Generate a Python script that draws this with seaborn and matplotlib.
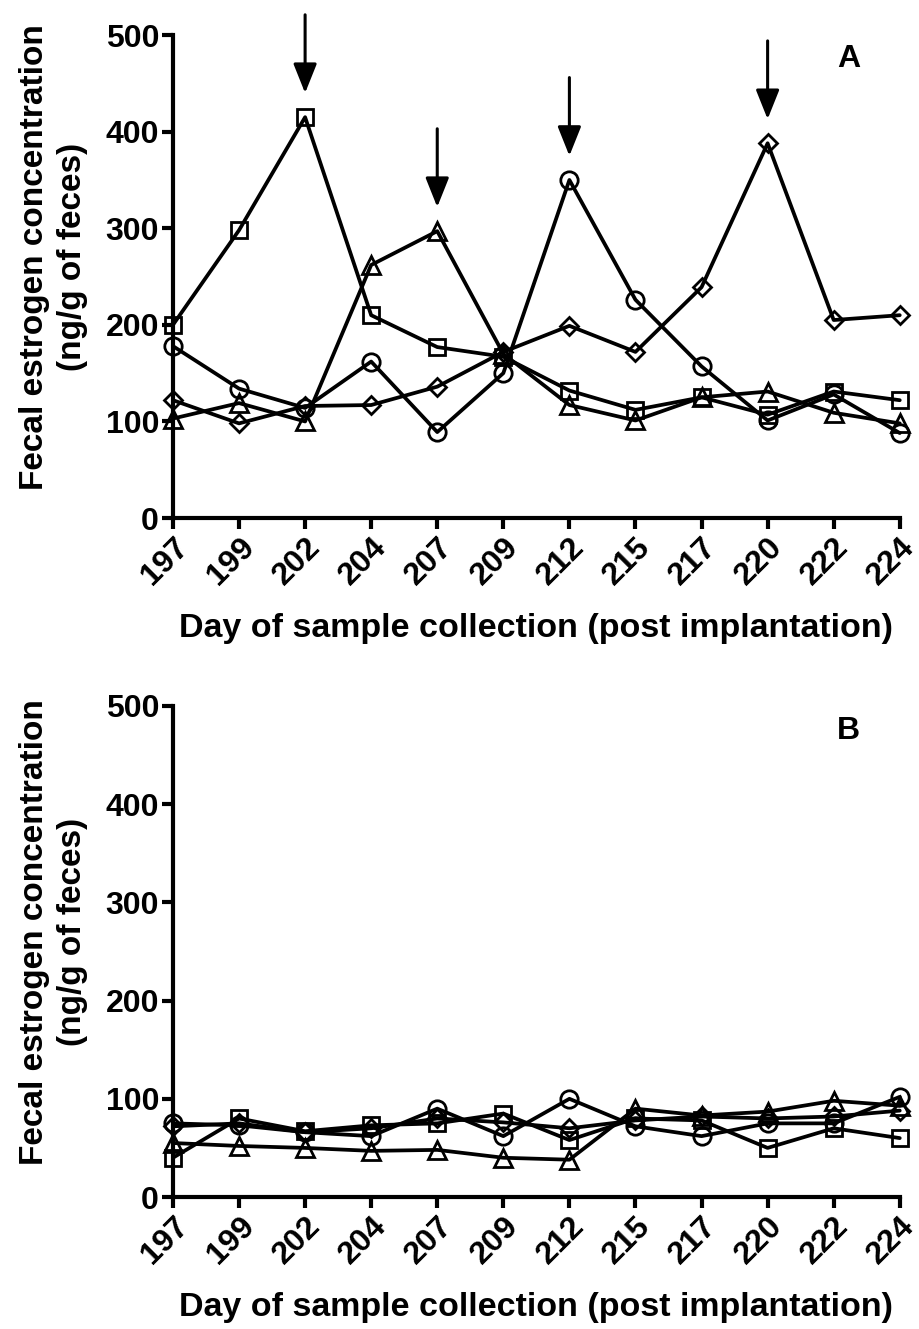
import numpy as np
import pandas as pd
import matplotlib
matplotlib.use("Agg")
import matplotlib.pyplot as plt
import seaborn as sns

days = ["197", "199", "202", "204", "207", "209", "212", "215", "217", "220", "222", "224"]

# Panel A
a_square   = [200, 298, 415, 210, 177, 167, 132, 112, 125, 107, 131, 122]
a_triangle = [103, 119, 100, 262, 297, 170, 117, 101, 125, 131, 109, 98]
a_circle   = [178, 134, 114, 162, 89, 150, 350, 226, 157, 101, 128, 88]
a_diamond  = [122, 98, 116, 117, 136, 172, 199, 172, 239, 388, 205, 210]

# Panel B
b_square   = [40, 80, 67, 73, 75, 85, 58, 80, 78, 50, 70, 60]
b_triangle = [55, 52, 50, 47, 48, 40, 38, 90, 83, 87, 98, 93]
b_circle   = [75, 73, 66, 62, 90, 62, 100, 72, 62, 75, 75, 102]
b_diamond  = [72, 75, 66, 70, 80, 76, 70, 78, 82, 80, 82, 88]

# Peaks marked by arrows in panel A: (day, series peak value)
arrow_days = ["202", "207", "212", "220"]
arrow_peaks = [415, 297, 350, 388]

sns.set_style("ticks")
plt.rcParams["font.family"] = ["Liberation Sans", "DejaVu Sans"]
plt.rcParams["font.weight"] = "bold"
plt.rcParams["axes.labelweight"] = "bold"
plt.rcParams["text.color"] = "black"
plt.rcParams["axes.labelcolor"] = "black"
plt.rcParams["xtick.color"] = "black"
plt.rcParams["ytick.color"] = "black"
plt.rcParams["axes.edgecolor"] = "black"

fig = plt.figure(figsize=(9.2, 13.29), dpi=100)
axA = fig.add_axes([0.188, 0.6102, 0.790, 0.3634])
axB = fig.add_axes([0.188, 0.0993, 0.790, 0.3695])

markers = {"square": "s", "triangle": "^", "circle": "o", "diamond": "D"}
msize = {"square": 11.5, "triangle": 12.5, "circle": 12.5, "diamond": 9}

def draw(ax, series, letter):
    x = np.arange(len(days))
    for name, vals in series.items():
        df = pd.DataFrame({"x": x, "y": vals})
        sns.lineplot(data=df, x="x", y="y", ax=ax, color="black", lw=2.7,
                     marker=markers[name], markersize=msize[name],
                     markerfacecolor="none", markeredgecolor="black",
                     markeredgewidth=2.0, clip_on=False, zorder=3)
    ax.set_xlim(0, len(days) - 1)
    ax.set_ylim(0, 500)
    ax.set_yticks([0, 100, 200, 300, 400, 500])
    ax.set_xticks(x)
    ax.set_xticklabels(days, rotation=45, ha="right", rotation_mode="anchor")
    for s in ["top", "right"]:
        ax.spines[s].set_visible(False)
    for s in ["left", "bottom"]:
        ax.spines[s].set_linewidth(3)
    ax.tick_params(axis="both", width=3, length=8, labelsize=23, pad=2,
                   colors="black")
    ax.set_xlabel("Day of sample collection (post implantation)", fontsize=24.5,
                  fontweight="bold", labelpad=16)
    ax.set_ylabel("Fecal estrogen concentration\n(ng/g of feces)", fontsize=24,
                  fontweight="bold", linespacing=1.3)
    ax.yaxis.set_label_coords(-0.117, 0.54)
    ax.text(0.93, 0.95, letter, transform=ax.transAxes, fontsize=23,
            fontweight="bold", ha="center", va="center")

draw(axA, {"square": a_square, "triangle": a_triangle,
           "circle": a_circle, "diamond": a_diamond}, "A")
draw(axB, {"square": b_square, "triangle": b_triangle,
           "circle": b_circle, "diamond": b_diamond}, "B")

for d, p in zip(arrow_days, arrow_peaks):
    xi = days.index(d)
    tip = p + 25
    top = tip + 81
    axA.annotate("", xy=(xi, tip), xytext=(xi, top), annotation_clip=False,
                 arrowprops=dict(arrowstyle="-|>,head_length=0.9,head_width=0.36",
                                 mutation_scale=20, color="black", lw=2.2,
                                 shrinkA=0, shrinkB=0))

fig.savefig("out.png", dpi=100)
